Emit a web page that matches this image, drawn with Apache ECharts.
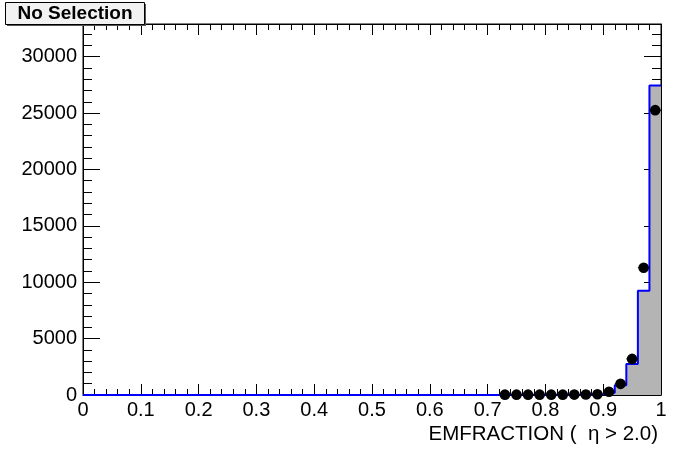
<!DOCTYPE html>
<html><head><meta charset="utf-8">
<script src="https://cdn.jsdelivr.net/npm/echarts@6/dist/echarts.min.js"></script>
<style>html,body{margin:0;padding:0;background:#fff}#c{width:696px;height:472px}</style>
</head><body><div id="c"></div>
<script>
// 50 bins of width 0.02 on [0,1]
const binWidth = 0.02;
const histCounts = [
  0,0,0,0,0,0,0,0,0,0,
  0,0,0,0,0,0,0,0,0,0,
  0,0,0,0,0,0,0,0,0,0,
  0,0,0,0,0,0,15,20,20,25,
  25,30,35,45,70,200,870,2750,9250,27450
];
const dataCounts = [
  0,0,0,0,0,0,0,0,0,0,
  0,0,0,0,0,0,0,0,0,0,
  0,0,0,0,0,0,0,0,0,0,
  0,0,0,0,0,0,30,30,30,30,
  30,30,35,45,60,290,990,3200,11290,25260
];
const dataErrors = [
  0,0,0,0,0,0,0,0,0,0,
  0,0,0,0,0,0,0,0,0,0,
  0,0,0,0,0,0,0,0,0,0,
  0,0,0,0,0,0,5,5,5,5,
  5,5,6,7,8,17,31,57,106,159
];
const xTicks = [0,0.1,0.2,0.3,0.4,0.5,0.6,0.7,0.8,0.9,1];
const yTicks = [0,5000,10000,15000,20000,25000,30000];
const yMax = 32900;
const titleText = 'No Selection';
const xTitle = 'EMFRACTION (  \u03b7 > 2.0)';

const histLine = histCounts.map((v,i)=>[i*2/100, v]);
histLine.push([1, histCounts[histCounts.length-1]]);
const pts = [];
dataCounts.forEach((v,i)=>{ if(v>0) pts.push([(2*i+1)/100, v, dataErrors[i]]); });

const chart = echarts.init(document.getElementById('c'), null, {renderer:'canvas'});
const F = 'Liberation Sans, Arial, Helvetica, sans-serif';
const blk = {color:'#000', width:1};
function yAx(pos, major){
  return {type:'value', min:0, max:yMax, interval: major?5000:1000, position:pos,
    axisLine:{show:major, lineStyle:blk},
    axisTick:{show:true, inside:true, length: major?17:9, lineStyle:blk},
    axisLabel:{show: major && pos==='left', fontSize:20, fontFamily:F, color:'#000', margin:6, showMaxLabel:false,
      formatter:function(v){ return yTicks.indexOf(v)>=0 ? String(v) : ''; }},
    splitLine:{show:false}};
}
function xAx(pos){
  return {type:'value', min:0, max:1, interval:0.1, position:pos,
    axisLine:{show:true, onZero:false, lineStyle:blk},
    axisTick:{show:true, inside:true, length:11, lineStyle:blk},
    minorTick:{show:true, splitNumber:5, length:6, lineStyle:blk},
    axisLabel:{show: pos==='bottom', fontSize:20, fontFamily:F, color:'#000', margin:5,
      formatter:function(v){ const k = xTicks.find(t=>Math.abs(t-v)<1e-9); return k===undefined?'':String(k); }},
    splitLine:{show:false}, minorSplitLine:{show:false}};
}
chart.setOption({
  animation:false,
  grid:{left:83, right:35, top:24, bottom:77, show:true, borderColor:'#000', borderWidth:1, backgroundColor:'#fff'},
  xAxis:[xAx('bottom'), xAx('top')],
  yAxis:[yAx('left',true), yAx('left',false), yAx('right',true), yAx('right',false)],
  series:[
    {type:'line', xAxisIndex:0, yAxisIndex:0, step:'end', data:histLine, symbol:'none',
     lineStyle:{color:'#0000ff', width:2}, areaStyle:{color:'#b4b4b4', opacity:1}, z:2},
    {type:'custom', xAxisIndex:0, yAxisIndex:0, data:pts, z:5,
     renderItem:function(params, api){
       const x = api.value(0), y = api.value(1), e = api.value(2);
       const c = api.coord([x,y]);
       const l = api.coord([x-binWidth/2,y]);
       const r = api.coord([x+binWidth/2,y]);
       const t = api.coord([x,y+e]);
       const b = api.coord([x,y-e]);
       return {type:'group', children:[
         {type:'line', shape:{x1:l[0],y1:l[1],x2:r[0],y2:r[1]}, style:{stroke:'#000', lineWidth:1}},
         {type:'line', shape:{x1:t[0],y1:t[1],x2:b[0],y2:b[1]}, style:{stroke:'#000', lineWidth:1}},
         {type:'circle', shape:{cx:c[0], cy:c[1], r:5.3}, style:{fill:'#000'}}
       ]};
     }}
  ],
  graphic:[
    {type:'rect', left:7, top:4, shape:{width:139, height:22}, style:{fill:'#555'}, z:10},
    {type:'rect', left:5, top:2, shape:{width:139, height:22}, style:{fill:'#f2f2f2', stroke:'#000', lineWidth:1}, z:11},
    {type:'text', x:75, y:14, style:{text:titleText, font:'bold 19px '+F, fill:'#000', textAlign:'center', textVerticalAlign:'middle'}, z:12},
    {type:'text', x:658, y:434, style:{text:xTitle, font:'20.5px '+F, fill:'#000', textAlign:'right', textVerticalAlign:'middle'}, z:12}
  ]
});
</script></body></html>
